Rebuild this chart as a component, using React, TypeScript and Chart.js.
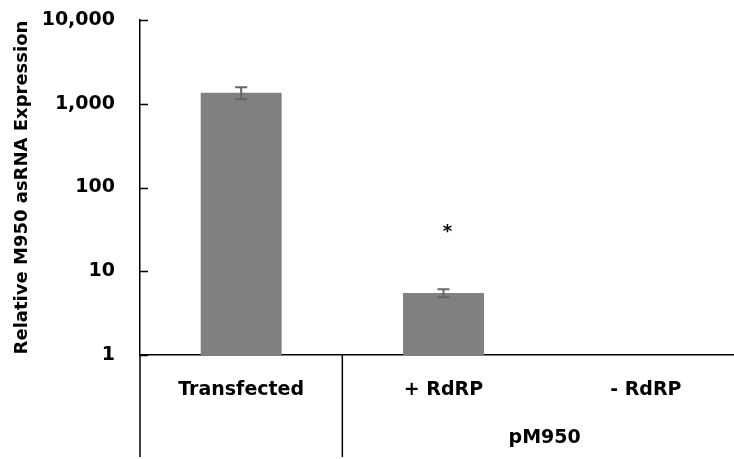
import React, { useEffect, useRef } from "react";
import { Chart, registerables } from "chart.js";

Chart.register(...registerables);

const categories = ["Transfected", "+ RdRP", "- RdRP"];
const groupLabel = "pM950";
const groupMembers = [1, 2];
const values: (number | null)[] = [1350, 5.5, null];
const errors: (number | null)[] = [220, 0.6, null];
const significance: (number | null)[] = [null, 33, null];
const yTicks = [1, 10, 100, 1000, 10000];
const yTitle = "Relative M950 asRNA Expression";

const FONT = "'DejaVu Sans', sans-serif";

const decorPlugin = {
  id: "decor",
  afterDraw(chart: any) {
    const { ctx, chartArea, scales } = chart;
    const x = scales.x;
    const y = scales.y;
    ctx.save();
    // inward tick marks on y axis
    ctx.strokeStyle = "#000";
    ctx.lineWidth = 1.5;
    yTicks.forEach((v) => {
      const py = Math.round(y.getPixelForValue(v)) + 0.5;
      ctx.beginPath();
      ctx.moveTo(chartArea.left, py);
      ctx.lineTo(chartArea.left + 8, py);
      ctx.stroke();
    });
    // category separators below x axis
    const half = (x.getPixelForValue(1) - x.getPixelForValue(0)) / 2;
    const seps = [x.getPixelForValue(0) - half, x.getPixelForValue(0) + half, x.getPixelForValue(2) + half];
    seps.forEach((sx) => {
      ctx.beginPath();
      ctx.moveTo(sx, chartArea.bottom);
      ctx.lineTo(sx, chartArea.bottom + 102);
      ctx.stroke();
    });
    // error bars
    ctx.strokeStyle = "#666666";
    ctx.lineWidth = 2;
    values.forEach((v, i) => {
      const e = errors[i];
      if (v == null || e == null) return;
      const px = x.getPixelForValue(i);
      const top = y.getPixelForValue(v + e);
      const bot = y.getPixelForValue(v - e);
      ctx.beginPath();
      ctx.moveTo(px, top);
      ctx.lineTo(px, bot);
      ctx.moveTo(px - 6, top);
      ctx.lineTo(px + 6, top);
      ctx.moveTo(px - 6, bot);
      ctx.lineTo(px + 6, bot);
      ctx.stroke();
    });
    // significance asterisk
    ctx.fillStyle = "#000";
    ctx.font = `bold 18px ${FONT}`;
    ctx.textAlign = "center";
    ctx.textBaseline = "alphabetic";
    significance.forEach((s, i) => {
      if (s == null) return;
      const px = x.getPixelForValue(i) + 4;
      const py = y.getPixelForValue(s);
      ctx.fillText("*", px, py + 9);
    });
    // group label
    ctx.font = `bold 19px ${FONT}`;
    const gx = (x.getPixelForValue(groupMembers[0]) + x.getPixelForValue(groupMembers[groupMembers.length - 1])) / 2;
    ctx.textBaseline = "middle";
    ctx.fillText(groupLabel, gx, chartArea.bottom + 83);
    ctx.restore();
  },
};

export default function App() {
  const ref = useRef<HTMLCanvasElement | null>(null);
  useEffect(() => {
    if (!ref.current) return;
    const chart = new Chart(ref.current, {
      type: "bar",
      data: {
        labels: categories,
        datasets: [
          {
            data: values as any,
            backgroundColor: "#808080",
            borderWidth: 0,
            categoryPercentage: 1,
            barPercentage: 0.4,
          },
        ],
      },
      options: {
        responsive: false,
        animation: false,
        layout: { padding: { top: 20, right: 13, left: 0, bottom: 0 } },
        plugins: { legend: { display: false }, tooltip: { enabled: false } },
        scales: {
          x: {
            type: "category",
            offset: true,
            grid: { display: true, drawOnChartArea: false, drawTicks: false },
            border: { display: true, color: "#000", width: 1.5 },
            ticks: {
              font: { family: FONT, size: 19, weight: "bold" },
              color: "#000",
              padding: 24,
              maxRotation: 0,
              autoSkip: false,
            },
            afterFit: (s: any) => {
              s.height = 104;
              s.paddingLeft = 0;
              s.paddingRight = 0;
            },
          },
          y: {
            type: "logarithmic",
            min: 1,
            max: 10000,
            afterBuildTicks: (s: any) => {
              s.ticks = yTicks.map((v) => ({ value: v }));
            },
            grid: { display: true, drawOnChartArea: false, drawTicks: false },
            border: { display: true, color: "#000", width: 1.5 },
            ticks: {
              font: { family: FONT, size: 19, weight: "bold" },
              color: "#000",
              padding: 25,
              callback: (v: any) => Number(v).toLocaleString("en-US"),
            },
            title: {
              display: true,
              text: yTitle,
              font: { family: FONT, size: 18, weight: "bold" },
              color: "#000",
              padding: { top: 12, bottom: 0 },
            },
            afterFit: (s: any) => {
              s.width = 140;
              s.paddingTop = 0;
              s.paddingBottom = 0;
            },
          },
        },
      },
      plugins: [decorPlugin],
    });
    return () => chart.destroy();
  }, []);
  return (
    <div
      style={{
        position: "fixed",
        left: 0,
        top: 0,
        width: 734,
        height: 459,
        overflow: "hidden",
        background: "#fff",
      }}
    >
      <canvas ref={ref} width={760} height={459} style={{ display: "block" }} />
    </div>
  );
}
